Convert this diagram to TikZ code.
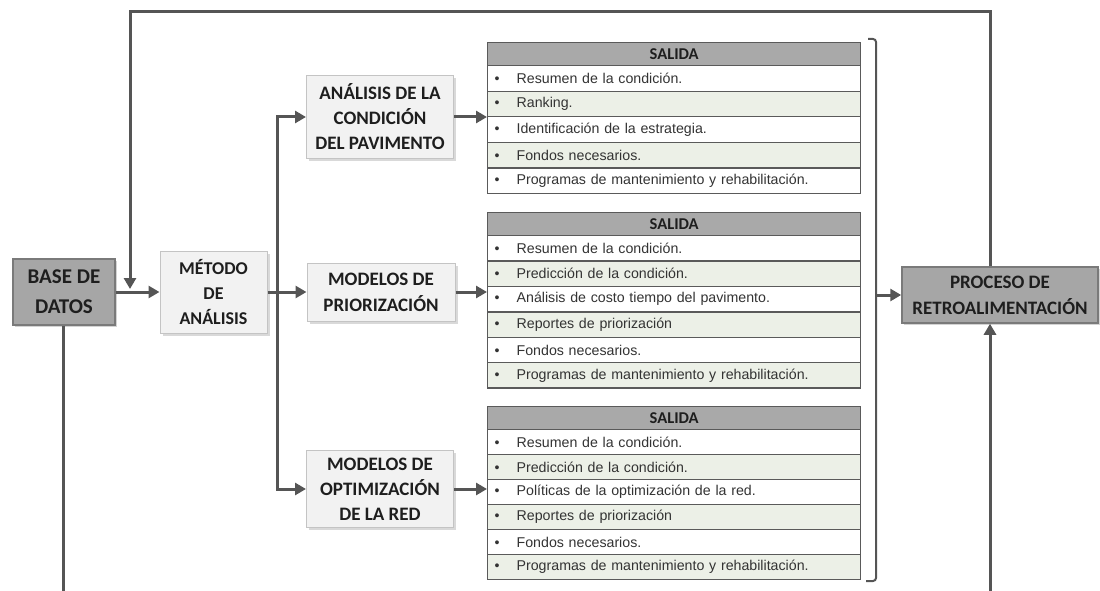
\documentclass[tikz,border=0pt]{standalone}
\usepackage{fontspec}
\setmainfont{Liberation Sans}
\newfontfamily\boxfont{Carlito}
\usetikzlibrary{arrows.meta,shadows}

\definecolor{conncol}{HTML}{555555}
\definecolor{darkfill}{HTML}{A6A6A6}
\definecolor{darkedge}{HTML}{7A7A7A}
\definecolor{lightfill}{HTML}{F2F2F2}
\definecolor{lightedge}{HTML}{C4C4C4}
\definecolor{hdrfill}{HTML}{A9A9A9}
\definecolor{tline}{HTML}{5A5A5A}
\definecolor{rowtint}{HTML}{ECF0E7}
\definecolor{boxtext}{HTML}{1E1E1E}

\tikzset{
  conn/.style={draw=conncol, line width=3pt},
  tip/.style={-{Triangle[length=11pt,width=12pt]}},
  darkbox/.style={rectangle, draw=darkedge, line width=1.5pt, fill=darkfill,
    text=boxtext, align=center, font=\boxfont\bfseries,
    drop shadow={shadow xshift=2pt, shadow yshift=-2pt, opacity=.35}},
  lightbox/.style={rectangle, draw=lightedge, line width=1pt, fill=lightfill,
    text=boxtext, align=center, font=\boxfont\bfseries,
    drop shadow={shadow xshift=2.5pt, shadow yshift=-2.5pt, opacity=.3}},
  salhead/.style={rectangle, draw=tline, line width=1.3pt, fill=hdrfill,
    minimum width=373pt, minimum height=23pt, inner sep=0pt,
    font=\boxfont\bfseries\fontsize{16.5}{18}\selectfont, text=boxtext},
  salrow/.style={rectangle, draw=tline, line width=1.3pt,
    minimum width=373pt, inner xsep=7pt, inner ysep=0pt, text width=359pt,
    align=left, font=\fontsize{14.2}{16}\selectfont, text=black!80},
  bracketline/.style={draw=conncol, line width=2pt, rounded corners=3pt}
}

% one "SALIDA" table: name, top edge, row height, list of items
\newcommand\salidatable[4]{%
  \node[salhead, anchor=north west] (#1h) at (487,#2) {SALIDA};
  \foreach \t [count=\i] in {#4} {%
    \ifodd\i \def\rowfill{white}\else \def\rowfill{rowtint}\fi
    \node[salrow, fill=\rowfill, minimum height=#3pt, anchor=north west]
      (#1r\i) at (487,{#2+23+(\i-1)*#3}) {\makebox[22pt][l]{\textbullet}\t};
  }%
}

\begin{document}
\begin{tikzpicture}[x=1pt,y=-1pt]
\useasboundingbox (0,0) rectangle (1100,591);

% main boxes
\node[darkbox, minimum width=102pt, minimum height=66pt,
  font=\boxfont\bfseries\fontsize{21}{30}\selectfont] (base) at (64,292) {BASE DE\\DATOS};
\node[lightbox, minimum width=107pt, minimum height=82pt,
  font=\boxfont\bfseries\fontsize{18}{25}\selectfont] (metodo) at (213.5,292) {MÉTODO\\DE\\ANÁLISIS};
\node[lightbox, minimum width=147pt, minimum height=83pt,
  font=\boxfont\bfseries\fontsize{19}{25}\selectfont] (analisis) at (380,117) {ANÁLISIS DE LA\\CONDICIÓN\\DEL PAVIMENTO};
\node[lightbox, minimum width=148pt, minimum height=58pt,
  font=\boxfont\bfseries\fontsize{19}{26}\selectfont] (prior) at (381,292) {MODELOS DE\\PRIORIZACIÓN};
\node[lightbox, minimum width=147pt, minimum height=77pt,
  font=\boxfont\bfseries\fontsize{19}{25}\selectfont] (optim) at (380,489) {MODELOS DE\\OPTIMIZACIÓN\\DE LA RED};
\node[darkbox, minimum width=196pt, minimum height=56pt,
  font=\boxfont\bfseries\fontsize{19}{26}\selectfont] (proceso) at (1000,295) {PROCESO DE\\RETROALIMENTACIÓN};

% output tables
\salidatable{ta}{42}{25.6}{Resumen de la condición.,Ranking.,Identificación de la estrategia.,Fondos necesarios.,Programas de mantenimiento y rehabilitación.}
\salidatable{tb}{212}{25.4}{Resumen de la condición.,Predicción de la condición.,Análisis de costo tiempo del pavimento.,Reportes de priorización,Fondos necesarios.,Programas de mantenimiento y rehabilitación.}
\salidatable{tc}{406}{25}{Resumen de la condición.,Predicción de la condición.,Políticas de la optimización de la red.,Reportes de priorización,Fondos necesarios.,Programas de mantenimiento y rehabilitación.}

% helper points
\coordinate (trunk) at (277,292);
\coordinate (fbR) at (990,12);
\coordinate (fbL) at (130,12);
\coordinate (fbEnd) at (130,289);
\coordinate (botL) at (63,591);
\coordinate (botR) at (990,591);
\coordinate (brTop) at (876,39);
\coordinate (brBot) at (876,581);
\coordinate (brMid) at (876,295);

% flow from the database to the analysis method
\draw[conn, tip] (base.east) -- (metodo.west);
\draw[conn] (metodo.east) -- (trunk);
\draw[conn, tip] (trunk) |- (analisis.west);
\draw[conn, tip] (trunk) -- (prior.west);
\draw[conn, tip] (trunk) |- (optim.west);

% boxes to their outputs
\draw[conn, tip] (analisis.east) -- (analisis.east -| tah.west);
\draw[conn, tip] (prior.east) -- (prior.east -| tbh.west);
\draw[conn, tip] (optim.east) -- (optim.east -| tch.west);

% bracket gathering the outputs
\draw[bracketline] ([xshift=-8pt]brTop) -- (brTop) -- (brBot) -- ([xshift=-10pt]brBot);
\draw[conn, tip] (brMid) -- (proceso.west);

% feedback loops
\draw[conn, tip] (proceso.north -| fbR) -- (fbR) -- (fbL) -- (fbEnd);
\draw[conn] (base.south -| botL) -- (botL);
\draw[conn, tip] (botR) -- (proceso.south -| botR);
\end{tikzpicture}
\end{document}
